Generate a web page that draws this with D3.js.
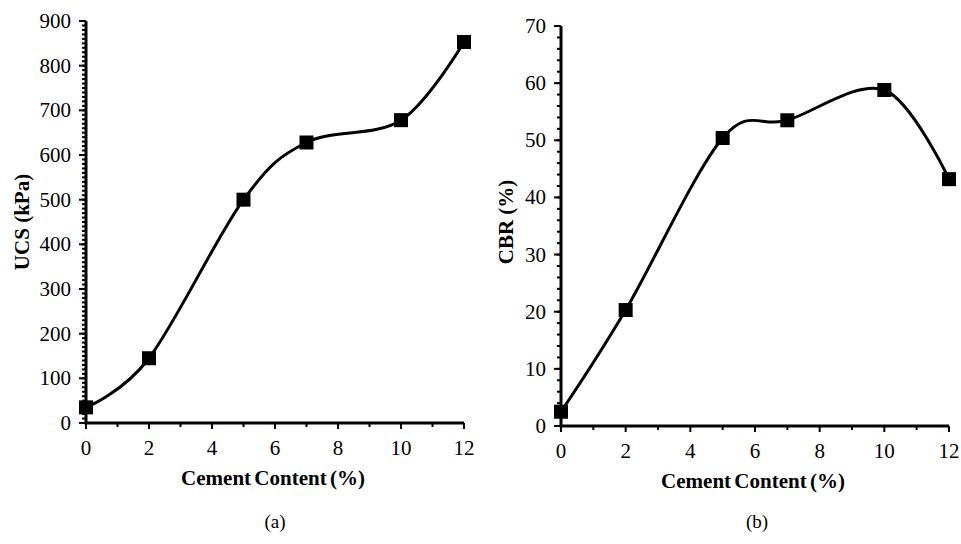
<!DOCTYPE html>
<html>
<head>
<meta charset="utf-8">
<script src="https://cdn.jsdelivr.net/npm/d3@7"></script>
<style>
  body { margin: 0; background: #fff; }
  svg { display: block; font-family: "Liberation Serif", "Times New Roman", serif; }
</style>
</head>
<body>
<svg id="chart" width="961" height="544"></svg>
<script>
const cementContent = [0, 2, 5, 7, 10, 12];
const ucsValues = [35, 145, 500, 628, 678, 853];
const cbrValues = [2.5, 20.3, 50.4, 53.5, 58.8, 43.2];
const xTicks = [0, 2, 4, 6, 8, 10, 12];
const ucsTicks = [0, 100, 200, 300, 400, 500, 600, 700, 800, 900];
const cbrTicks = [0, 10, 20, 30, 40, 50, 60, 70];

const svg = d3.select("#chart");

function drawPanel(cfg) {
  const g = svg.append("g");
  const x = d3.scaleLinear().domain([0, 12]).range([cfg.x0, cfg.x1]);
  const y = d3.scaleLinear().domain([0, cfg.yMax]).range([cfg.y0, cfg.y1]);

  // minor y ticks
  g.selectAll(".ymin")
    .data(d3.range(0, cfg.yMax + 0.001, cfg.yMinor))
    .join("line")
    .attr("x1", cfg.x0 - 4)
    .attr("x2", cfg.x0)
    .attr("y1", d => y(d))
    .attr("y2", d => y(d))
    .attr("stroke", "black")
    .attr("stroke-width", 2);

  // major y ticks
  g.selectAll(".ymaj")
    .data(cfg.yTicks)
    .join("line")
    .attr("x1", cfg.x0 - 7)
    .attr("x2", cfg.x0)
    .attr("y1", d => y(d))
    .attr("y2", d => y(d))
    .attr("stroke", "black")
    .attr("stroke-width", 2);

  // x ticks (minor at odd values, major at even)
  g.selectAll(".xt")
    .data(d3.range(0, 13))
    .join("line")
    .attr("x1", d => x(d))
    .attr("x2", d => x(d))
    .attr("y1", cfg.y0)
    .attr("y2", d => cfg.y0 + (d % 2 === 0 ? 6 : 4))
    .attr("stroke", "black")
    .attr("stroke-width", 2);

  // axis lines
  g.append("line")
    .attr("x1", cfg.x0).attr("x2", cfg.x0)
    .attr("y1", cfg.y1).attr("y2", cfg.y0)
    .attr("stroke", "black").attr("stroke-width", 3);
  g.append("line")
    .attr("x1", cfg.x0 - 1.5).attr("x2", cfg.x1)
    .attr("y1", cfg.y0).attr("y2", cfg.y0)
    .attr("stroke", "black").attr("stroke-width", 3);

  // tick labels
  g.selectAll(".ylab")
    .data(cfg.yTicks)
    .join("text")
    .attr("x", cfg.x0 - 15)
    .attr("y", d => y(d) + 7)
    .attr("text-anchor", "end")
    .attr("font-size", "21px")
    .text(d => d);

  g.selectAll(".xlab")
    .data(xTicks)
    .join("text")
    .attr("x", d => x(d))
    .attr("y", cfg.y0 + 32)
    .attr("text-anchor", "middle")
    .attr("font-size", "21px")
    .text(d => d);

  // axis titles
  g.append("text")
    .attr("x", (cfg.x0 + cfg.x1) / 2 - 2)
    .attr("y", cfg.y0 + 62)
    .attr("text-anchor", "middle")
    .attr("font-size", "21px")
    .attr("font-weight", "bold")
    .attr("word-spacing", "-2px")
    .text("Cement Content (%)");

  g.append("text")
    .attr("transform", `translate(${cfg.titleX},222) rotate(-90)`)
    .attr("text-anchor", "middle")
    .attr("font-size", "21px")
    .attr("font-weight", "bold")
    .text(cfg.yTitle);

  g.append("text")
    .attr("x", cfg.capX)
    .attr("y", 528)
    .attr("text-anchor", "middle")
    .attr("font-size", "19px")
    .text(cfg.caption);

  // smoothed line
  const pts = cementContent.map((c, i) => [c, cfg.values[i]]);
  g.append("path")
    .datum(pts)
    .attr("fill", "none")
    .attr("stroke", "black")
    .attr("stroke-width", 3)
    .attr("d", d3.line()
      .x(d => x(d[0]))
      .y(d => y(d[1]))
      .curve(d3.curveCardinal.tension(0)));

  // square markers
  g.selectAll(".mk")
    .data(pts)
    .join("rect")
    .attr("x", d => x(d[0]) - 7)
    .attr("y", d => y(d[1]) - 7)
    .attr("width", 14)
    .attr("height", 14)
    .attr("fill", "black");
}

drawPanel({
  x0: 86, x1: 464, y0: 423, y1: 21,
  yMax: 900, yMinor: 10, yTicks: ucsTicks, values: ucsValues,
  yTitle: "UCS (kPa)", titleX: 29, caption: "(a)", capX: 275
});

drawPanel({
  x0: 561, x1: 949, y0: 426, y1: 26,
  yMax: 70, yMinor: 2, yTicks: cbrTicks, values: cbrValues,
  yTitle: "CBR (%)", titleX: 513, caption: "(b)", capX: 757
});
</script>
</body>
</html>
